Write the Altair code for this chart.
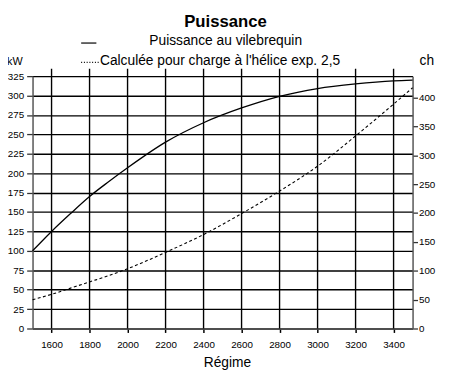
import altair as alt
import pandas as pd

# --- data ---
rpm = [1500, 1600, 1700, 1800, 1900, 2000, 2200, 2400, 2600, 2800, 3000, 3200, 3400, 3500]
vilebrequin_kw = [100, 125, 148, 170, 189, 207, 240, 265, 284, 299, 309, 315, 319, 320]
helice_kw = [37, 44, 52, 60, 68, 77, 98, 121, 148, 177, 209, 248, 289, 310]

x_ticks = [1600, 1800, 2000, 2200, 2400, 2600, 2800, 3000, 3200, 3400]
kw_ticks = [0, 25, 50, 75, 100, 125, 150, 175, 200, 225, 250, 275, 300, 325]
ch_ticks = [0, 50, 100, 150, 200, 250, 300, 350, 400]

title_txt = "Puissance"
legend1_txt = "Puissance au vilebrequin"
legend2_txt = "Calculée pour charge à l'hélice exp. 2,5"
left_unit = "kW"
right_unit = "ch"
x_title = "Régime"

FONT = "Liberation Sans"
W, H = 387, 257

df = pd.DataFrame({"rpm": rpm, "vil": vilebrequin_kw, "hel": helice_kw})

xscale = alt.Scale(domain=[1500, 3500], nice=False, zero=False)
yscale = alt.Scale(domain=[0, 325], nice=False)

x_axis = alt.Axis(values=x_ticks, title=None, grid=False, format="d", labelFont=FONT,
                  labelFontSize=10, labelColor="black", tickColor="black", tickSize=4,
                  tickWidth=1.5, domainColor="#555", domainWidth=1.5, labelPadding=7,
                  labelFlush=False, labelOverlap=False)
y_axis = alt.Axis(values=kw_ticks, title=None, grid=True, gridColor="black", gridWidth=1.4,
                  gridOpacity=1, labelFont=FONT, labelFontSize=10, labelColor="black",
                  tickColor="#333", tickSize=6, tickWidth=1.3, labelPadding=3,
                  domainColor="#555", domainWidth=1.5, labelOverlap=False, labelFlush=False)

base = alt.Chart(df)

solid = base.mark_line(color="black", strokeWidth=1.3, interpolate="monotone").encode(
    x=alt.X("rpm:Q", scale=xscale, axis=x_axis),
    y=alt.Y("vil:Q", scale=yscale, axis=y_axis),
)
dashed = base.mark_line(color="black", strokeWidth=1.1, strokeDash=[3, 2.5],
                        interpolate="monotone").encode(
    x=alt.X("rpm:Q", scale=xscale, axis=x_axis),
    y=alt.Y("hel:Q", scale=yscale, axis=y_axis),
)

vgrid = alt.Chart(pd.DataFrame({"t": x_ticks})).mark_rule(color="black", strokeWidth=1.4).encode(
    x=alt.X("t:Q", scale=xscale, axis=x_axis),
    y=alt.value(-7.5),
    y2=alt.value(H),
)

ch_layer = alt.Chart(pd.DataFrame({"c": ch_ticks})).mark_point(opacity=0).encode(
    x=alt.value(0),
    y=alt.Y("c:Q", scale=alt.Scale(domain=[0, 437], nice=False),
            axis=alt.Axis(orient="right", values=ch_ticks, title=None, grid=False,
                          labelFont=FONT, labelFontSize=10, labelColor="black",
                          tickColor="#333", tickSize=5, tickWidth=1.3, labelPadding=1,
                          domainColor="#555", domainWidth=1.5, labelOverlap=False,
                          labelFlush=False)),
)


def txt(s, x, y, size, align="center", weight="normal"):
    return alt.Chart(pd.DataFrame({"s": [s]})).mark_text(
        font=FONT, fontSize=size, fontWeight=weight, align=align, baseline="alphabetic",
        color="black").encode(text="s:N", x=alt.value(x), y=alt.value(y))


texts = [
    txt(title_txt, 196.5, -50, 17, weight="bold"),
    txt(legend1_txt, 196.7, -31.5, 14),
    txt(legend2_txt, 68.7, -11.7, 14, align="left"),
    txt(left_unit, -18, -11.7, 11),
    txt(right_unit, 401.5, -11.7, 14),
    txt(x_title, 198.5, 296, 14),
]

sample_solid = alt.Chart(pd.DataFrame({"a": [0]})).mark_rule(color="black", strokeWidth=1.2).encode(
    x=alt.value(49.5), x2=alt.value(65), y=alt.value(-33.7))
sample_dot = alt.Chart(pd.DataFrame({"a": [0]})).mark_rule(color="black", strokeWidth=1.1,
                                                            strokeDash=[1, 1.8]).encode(
    x=alt.value(49.5), x2=alt.value(67.5), y=alt.value(-14))

main = alt.layer(vgrid, solid, dashed, sample_solid, sample_dot, *texts)
chart = alt.layer(main, ch_layer).resolve_scale(y="independent").properties(
    width=W, height=H,
    autosize=alt.AutoSizeParams(type="none"),
    padding={"left": 25, "top": 66, "right": 32, "bottom": 46},
).configure_view(strokeWidth=0)

chart.save("out.html", embed_options={"renderer": "svg", "actions": False})
